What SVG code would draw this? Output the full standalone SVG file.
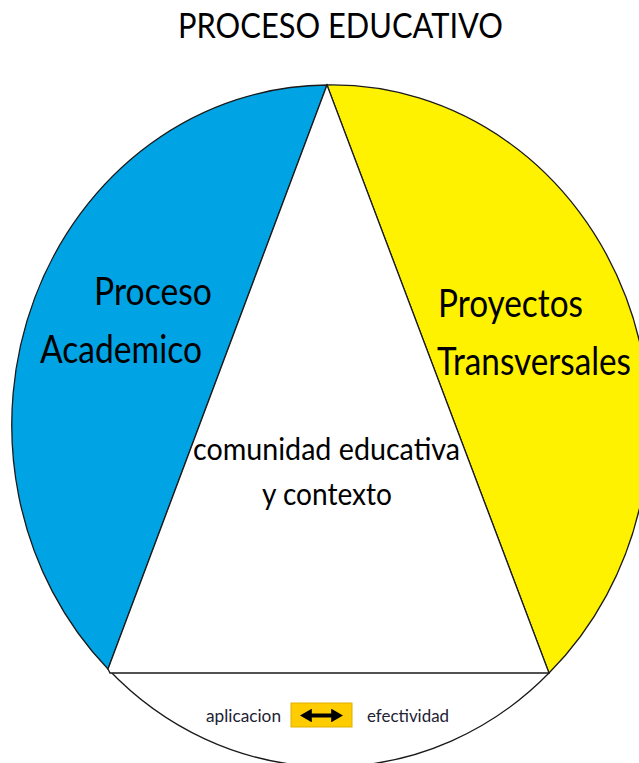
<svg xmlns="http://www.w3.org/2000/svg" width="639" height="763" viewBox="0 0 639 763">
<style>
.lbl{font-family:Lato,"Open Sans","Liberation Sans",sans-serif;fill:#000;}
.big{font-size:38px;}
.mid{font-size:31px;}
.small{font-size:18px;fill:#1e2233;}
.seg{stroke:#1a1a1a;stroke-width:1.3;}
</style>
<defs>
<marker id="ah" viewBox="0 0 10 10" refX="4" refY="5" markerWidth="3" markerHeight="3.4" orient="auto-start-reverse" preserveAspectRatio="none">
<path d="M0,0 L10,5 L0,10 Z" fill="#000"/>
</marker>
</defs>
<rect width="639" height="763" fill="#fff"/>
<g id="title">
<text class="lbl" x="178" y="38" font-size="35" textLength="325" lengthAdjust="spacingAndGlyphs">PROCESO EDUCATIVO</text>
</g>
<g id="aplicacion-efectividad">
<path class="seg" d="M108,669 A317,340 0 0 0 549,673" fill="#fff"/>
<text class="lbl small" x="206" y="722" textLength="75" lengthAdjust="spacingAndGlyphs">aplicacion</text>
<text class="lbl small" x="367" y="722" textLength="82" lengthAdjust="spacingAndGlyphs">efectividad</text>
<rect x="291" y="703" width="61" height="24" fill="#FFCC00" stroke="#E0B000" stroke-width="1"/>
</g>
<g id="proceso-academico">
<path class="seg" d="M327,85 A317,340 0 0 0 108,669 L327,85 Z" fill="#00A3E4"/>
<text class="lbl big" x="94" y="305" textLength="118" lengthAdjust="spacingAndGlyphs">Proceso</text>
<text class="lbl big" x="40" y="363" textLength="162" lengthAdjust="spacingAndGlyphs">Academico</text>
</g>
<g id="proyectos-transversales">
<path class="seg" d="M327,85 A317,340 0 0 1 549,673 L327,85 Z" fill="#FFF200"/>
<text class="lbl big" x="438" y="317" textLength="145" lengthAdjust="spacingAndGlyphs">Proyectos</text>
<text class="lbl big" x="437" y="375" textLength="194" lengthAdjust="spacingAndGlyphs">Transversales</text>
</g>
<g id="comunidad">
<path class="seg" d="M327,85 L108,669 L110,673 L549,673 Z" fill="#fff"/>
<text class="lbl mid" x="193" y="460" textLength="267" lengthAdjust="spacingAndGlyphs">comunidad educativa</text>
<text class="lbl mid" x="262" y="505" textLength="130" lengthAdjust="spacingAndGlyphs">y contexto</text>
</g>
<g id="connectors">
<line x1="307" y1="715.5" x2="336" y2="715.5" stroke="#000" stroke-width="4" marker-start="url(#ah)" marker-end="url(#ah)"/>
</g>
</svg>
